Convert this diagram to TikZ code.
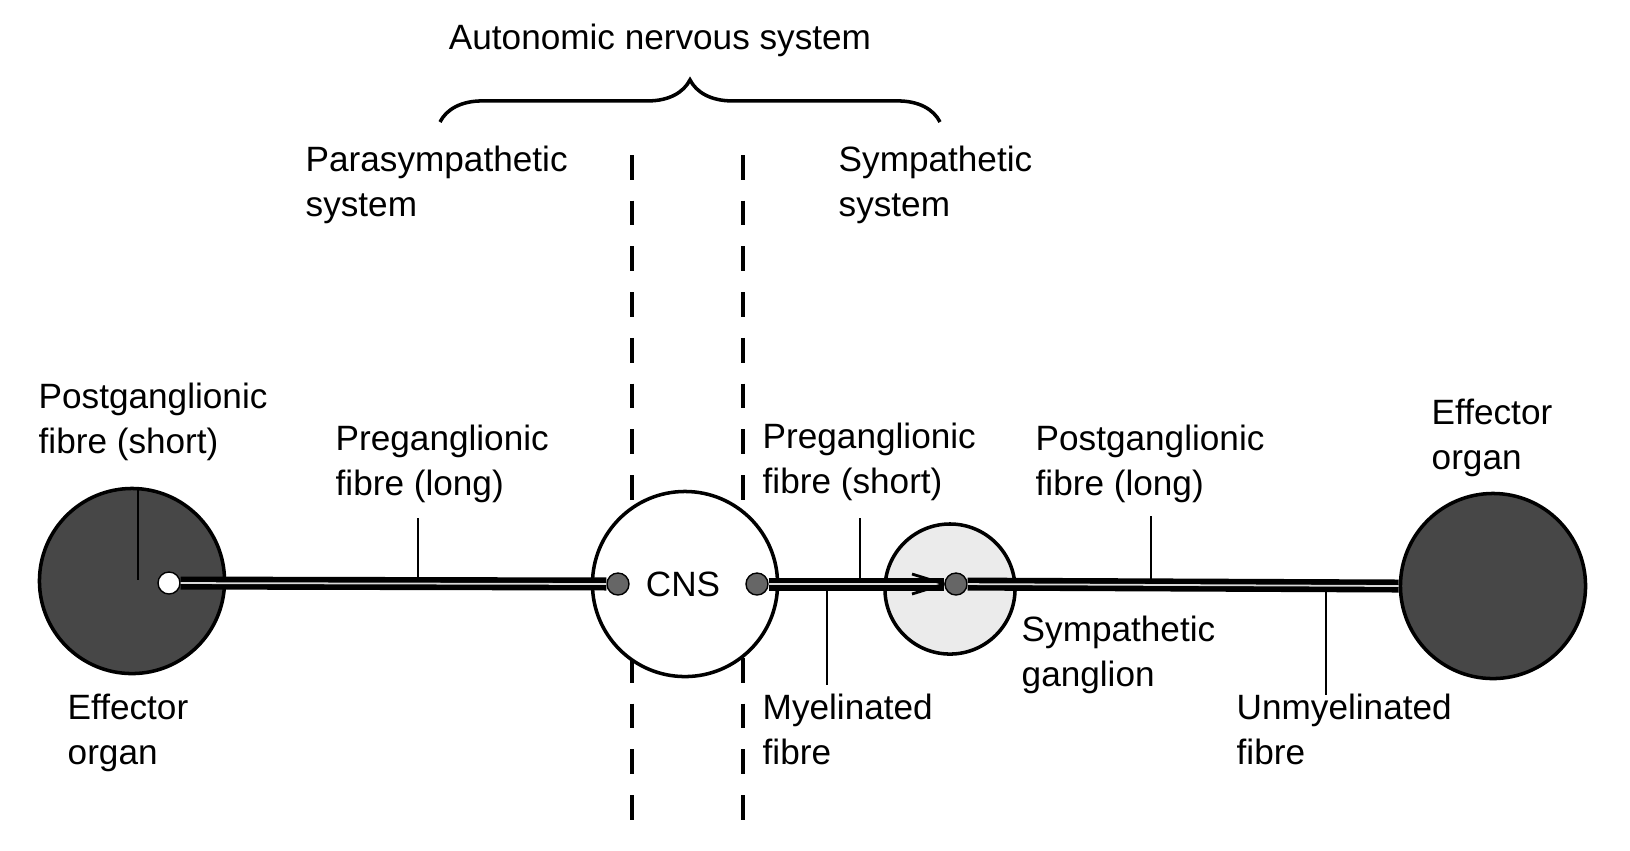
\documentclass[tikz,border=0pt]{standalone}
\usepackage{fontspec}
\setmainfont{Liberation Sans}
\usetikzlibrary{decorations.pathreplacing}
\begin{document}
\begin{tikzpicture}[x=0.01cm,y=-0.01cm,
  lab/.style={anchor=north west,align=left,inner sep=0pt,font=\fontsize{10}{13}\selectfont},
  tick/.style={line width=0.8pt},
  fibre/.style={line width=1.6pt,draw=black,double=gray!30,double distance=0.5pt},
  dot/.style={circle,draw,fill=black!60,inner sep=0pt,minimum size=0.22cm}]
\useasboundingbox (0,0) rectangle (1630,850);
\node[lab,anchor=center] (ans) at (660,40) {Autonomic nervous system};
\draw[line width=1pt,decoration={brace,amplitude=12pt},decorate] (440,122) -- (940,122);
\node[lab] (ps) at (305,145) {Parasympathetic\\system};
\node[lab] (ss) at (838,145) {Sympathetic\\system};
\draw[line width=1pt,dash pattern=on 7pt off 6pt] (632,155) -- (632,820);
\draw[line width=1pt,dash pattern=on 7pt off 6pt] (743,155) -- (743,820);
% organs
\node[circle,draw,line width=1pt,fill=black!72,minimum size=1.85cm] (lorg) at (132,581) {};
\node[circle,draw,line width=1pt,fill=black!72,minimum size=1.85cm] (rorg) at (1493,586) {};
\node[circle,draw,line width=1pt,fill=white,minimum size=1.85cm] (cns) at (685,584) {};
\node[font=\fontsize{10}{12}\selectfont] (cnst) at (683,584) {CNS};
\node[circle,draw,line width=1pt,fill=black!8,minimum size=1.3cm] (gang) at (950,589) {};
% fibres
\node[circle,draw,fill=white,minimum size=0.22cm,inner sep=0pt] (lw) at (169,583) {};
\node[dot] (d1) at (618,584) {};
\node[dot] (d2) at (757,584) {};
\node[dot] (d3) at (956,584) {};
\draw[fibre] (lw) -- (d1);
\draw[fibre] (d2) -- (d3);
\draw[fibre] (d3) -- (rorg.west);
\draw[line width=0.8pt] (d3.west) -- (912,574);
\draw[line width=0.8pt] (d3.west) -- (912,594);
% labels & ticks
\node[lab] (l1) at (38,382) {Postganglionic\\fibre (short)};
\draw[tick] (138,490) -- (138,580);
\node[lab] (l2) at (335,424) {Preganglionic\\fibre (long)};
\draw[tick] (418,518) -- (418,580);
\node[lab] (l3) at (67,693) {Effector\\organ};
\node[lab] (l4) at (762,422) {Preganglionic\\fibre (short)};
\draw[tick] (860,518) -- (860,580);
\node[lab] (l5) at (762,693) {Myelinated\\fibre};
\draw[tick] (827,587) -- (827,685);
\node[lab] (l6) at (1035,424) {Postganglionic\\fibre (long)};
\draw[tick] (1151,516) -- (1151,579);
\node[lab] (l7) at (1021,615) {Sympathetic\\ganglion};
\node[lab] (l8) at (1236,693) {Unmyelinated\\fibre};
\draw[tick] (1326,589) -- (1326,695);
\node[lab] (l9) at (1431,398) {Effector\\organ};
\end{tikzpicture}
\end{document}
